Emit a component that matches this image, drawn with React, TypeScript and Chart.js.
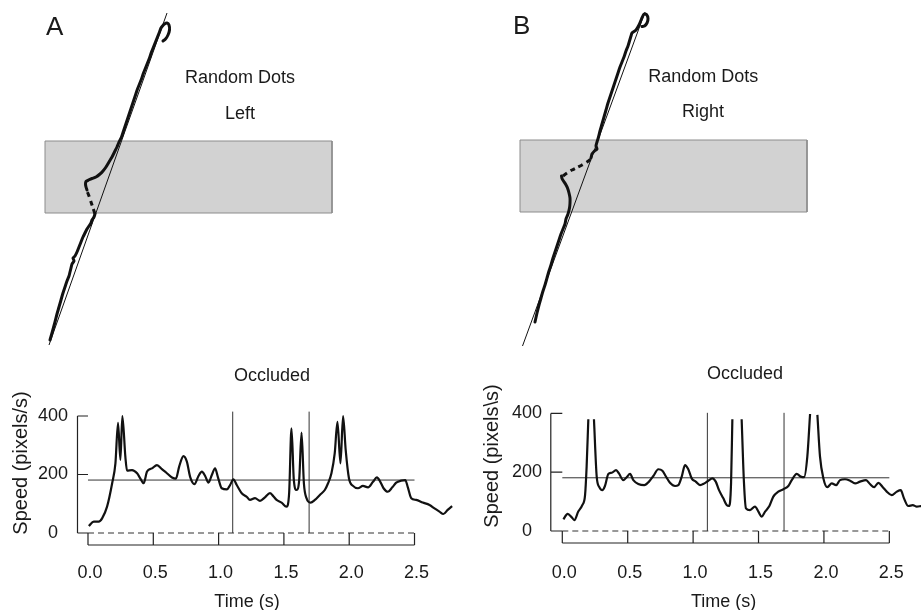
import { useEffect, useRef } from "react";
import { Chart, registerables } from "chart.js";

Chart.register(...registerables);

const FONT = "'Liberation Sans', Arial, Helvetica, sans-serif";

// ---------- Speed traces (time in s, speed in pixels/s) ----------
const timeA = [0.006, 0.044, 0.082, 0.108, 0.146, 0.185, 0.21, 0.23, 0.248, 0.263, 0.286, 0.299, 0.337, 0.376, 0.4, 0.426, 0.452, 0.49, 0.528, 0.566, 0.6, 0.643, 0.673, 0.698, 0.731, 0.757, 0.782, 0.815, 0.846, 0.872, 0.897, 0.922, 0.948, 0.973, 0.994, 1.024, 1.063, 1.088, 1.113, 1.139, 1.177, 1.215, 1.24, 1.279, 1.317, 1.355, 1.393, 1.418, 1.444, 1.482, 1.52, 1.54, 1.558, 1.576, 1.597, 1.617, 1.635, 1.653, 1.673, 1.704, 1.737, 1.775, 1.813, 1.838, 1.864, 1.889, 1.91, 1.933, 1.953, 1.973, 1.998, 2.029, 2.067, 2.105, 2.144, 2.182, 2.212, 2.238, 2.263, 2.296, 2.33, 2.36, 2.398, 2.429, 2.449, 2.475, 2.513, 2.563, 2.615, 2.653, 2.691, 2.721, 2.754, 2.788];
const speedA = [24, 39, 39, 50, 90, 170, 238, 377, 250, 400, 261, 213, 215, 204, 187, 170, 210, 221, 232, 218, 206, 190, 186, 227, 263, 244, 192, 167, 195, 210, 195, 172, 198, 221, 192, 153, 149, 164, 183, 164, 136, 124, 113, 119, 110, 122, 136, 126, 113, 104, 90, 136, 358, 181, 147, 181, 343, 170, 119, 104, 113, 130, 147, 170, 204, 272, 380, 238, 400, 284, 187, 161, 153, 161, 156, 175, 190, 175, 153, 141, 156, 172, 179, 181, 156, 119, 113, 104, 96, 84, 73, 65, 79, 92];

const timeB = [0.008, 0.041, 0.072, 0.092, 0.122, 0.153, 0.174, 0.186, 0.199, 0.22, 0.242, 0.263, 0.283, 0.306, 0.326, 0.352, 0.378, 0.411, 0.433, 0.466, 0.492, 0.518, 0.543, 0.581, 0.627, 0.663, 0.696, 0.734, 0.765, 0.79, 0.823, 0.862, 0.887, 0.913, 0.938, 0.963, 0.989, 1.02, 1.053, 1.086, 1.116, 1.147, 1.173, 1.198, 1.231, 1.257, 1.274, 1.29, 1.3, 1.335, 1.371, 1.389, 1.404, 1.435, 1.473, 1.499, 1.524, 1.55, 1.583, 1.613, 1.651, 1.69, 1.728, 1.754, 1.792, 1.823, 1.848, 1.873, 1.894, 1.92, 1.95, 1.97, 1.996, 2.026, 2.06, 2.093, 2.123, 2.161, 2.2, 2.238, 2.276, 2.322, 2.352, 2.383, 2.416, 2.45, 2.48, 2.518, 2.557, 2.587, 2.612, 2.645, 2.679, 2.71, 2.743];
const speedB: (number | null)[] = [40, 58, 47, 37, 66, 88, 122, 219, 380, null, 380, 185, 149, 139, 153, 194, 198, 207, 196, 173, 183, 194, 173, 160, 156, 168, 187, 210, 205, 187, 164, 153, 156, 185, 224, 210, 179, 168, 156, 162, 171, 179, 168, 139, 111, 88, 85, 162, 380, null, 380, 162, 77, 71, 83, 66, 49, 66, 85, 117, 134, 142, 153, 173, 194, 185, 183, 253, 398, null, 395, 253, 179, 149, 162, 156, 173, 176, 171, 162, 168, 173, 160, 149, 164, 149, 134, 122, 134, 139, 111, 85, 88, 83, 85];

const meanSpeedA = 181;
const meanSpeedB = 181;
const occlusionTimesA = [1.108, 1.693];
const occlusionTimesB = [1.109, 1.695];
const occlusionMarkerTopA = 415;
const occlusionMarkerTopB = 402;

const speedTicks = [0, 200, 400];
const timeTicks = [0, 0.5, 1.0, 1.5, 2.0, 2.5];

// ---------- Trajectories (screen coordinates, y downward) ----------
const targetLineA: [number, number][] = [[49, 345], [167, 13]];
const occluderAX = [45, 332];
const occluderAY = [141, 213];
const trajA_before: [number, number][] = [[50, 340], [52, 333], [55, 322], [57, 314], [59, 307], [61, 300], [63, 293], [65, 287], [67, 281], [69, 276], [70, 272], [71, 268], [72, 264], [74, 261], [73, 258], [75, 256], [77, 252], [79, 247], [81, 242], [83, 237], [85, 233], [87, 229], [89, 226], [91, 223], [92, 220], [94, 217], [95, 214]];
const trajA_hidden: [number, number][] = [[95, 214], [93, 208], [91, 202], [89, 196], [87, 191]];
const trajA_after: [number, number][] = [[87, 190], [86, 187], [85.5, 184], [86, 181.5], [88.5, 180], [92, 178.5], [96, 177], [100, 174], [103, 171], [106, 167], [109, 162], [112, 157], [114.5, 152], [117, 147], [119, 142], [121.5, 137], [123.5, 131], [125.5, 125], [127.5, 119], [129.5, 113], [131.5, 107], [133.5, 101], [135.5, 95], [137.5, 89], [139.5, 84], [141.5, 79], [143.5, 73], [145.5, 68], [147.5, 63], [149.5, 58], [151.5, 52], [153.5, 47], [155.5, 42], [157.5, 37], [159.5, 32], [161, 28], [162.5, 26], [164.5, 24], [167, 23], [169, 25], [169.5, 30], [168, 35], [165.5, 39], [163, 41]];

const targetLineB: [number, number][] = [[522.5, 346], [645, 12]];
const occluderBX = [520, 807];
const occluderBY = [140, 212];
const trajB_before: [number, number][] = [[535, 322], [537, 313], [539, 305], [541, 298], [543, 291], [545, 285], [547, 278], [549, 271], [551, 265], [553, 258], [555, 252], [557, 246], [559, 240], [561, 234], [563, 229], [565, 224], [566, 219], [568, 214], [569.5, 208], [570, 203], [570, 198], [569, 193], [567.5, 188], [565.5, 184], [563.5, 181], [562, 178.5], [561.5, 176]];
const trajB_hidden: [number, number][] = [[563, 176], [567, 173], [572, 170], [577, 167.5], [582, 165], [587, 162], [591, 159]];
const trajB_after: [number, number][] = [[591, 158], [592, 154], [594.5, 151], [597, 149], [596, 146], [597, 142], [598.5, 137], [600, 131], [602, 124], [604, 117], [606, 110], [608, 103], [610, 97], [612, 91], [614, 85], [616, 79], [618, 73], [620, 67], [622, 62], [624, 57], [626, 51], [628, 46], [629.5, 41], [631, 36], [632, 33], [636, 30], [639, 25], [641.5, 19], [644, 14], [646.5, 14.5], [648, 18.5], [647, 23], [644.5, 26], [642, 26.5]];

// ---------- plugin: bracket axes + free text ----------
type TextItem = { text: string; x: number; y: number; size: number; align?: CanvasTextAlign; rotate?: boolean };

const decorPlugin = {
  id: "decor",
  afterDatasetsDraw(chart: any, _args: any, opts: any) {
    const ctx: CanvasRenderingContext2D = chart.ctx;
    const br = opts.bracket;
    if (br) {
      const xs = chart.scales.x;
      const ys = chart.scales.y;
      const xT: number[] = br.xTicks;
      const yT: number[] = br.yTicks;
      const x0 = xs.getPixelForValue(xT[0]);
      const x1 = xs.getPixelForValue(xT[xT.length - 1]);
      const yZero = ys.getPixelForValue(0);
      const yTop = ys.getPixelForValue(Math.max(...yT));
      const axisX = x0 - br.gap;
      ctx.save();
      ctx.strokeStyle = "#222";
      ctx.lineWidth = 1.2;
      ctx.beginPath();
      ctx.moveTo(axisX, yTop);
      ctx.lineTo(axisX, yZero);
      yT.forEach((v) => {
        const y = ys.getPixelForValue(v);
        ctx.moveTo(axisX, y);
        ctx.lineTo(x0, y);
      });
      ctx.moveTo(x0, yZero + br.drop);
      ctx.lineTo(x1, yZero + br.drop);
      xT.forEach((v) => {
        const x = xs.getPixelForValue(v);
        ctx.moveTo(x, yZero);
        ctx.lineTo(x, yZero + br.drop);
      });
      ctx.stroke();
      ctx.restore();
    }
    const texts: TextItem[] = opts.texts || [];
    texts.forEach((t) => {
      ctx.save();
      ctx.fillStyle = "#1a1a1a";
      ctx.font = `${t.size}px ${FONT}`;
      ctx.textAlign = t.align || "center";
      ctx.textBaseline = "alphabetic";
      if (t.rotate) {
        ctx.translate(t.x, t.y);
        ctx.rotate(-Math.PI / 2);
        ctx.fillText(t.text, 0, 0);
      } else {
        ctx.fillText(t.text, t.x, t.y);
      }
      ctx.restore();
    });
  },
};

function pathConfig(p: {
  target: [number, number][];
  boxX: number[];
  boxY: number[];
  before: [number, number][];
  hidden: [number, number][];
  after: [number, number][];
  xMin: number;
  xMax: number;
  texts: TextItem[];
}): any {
  const box = [
    [p.boxX[0], p.boxY[0]],
    [p.boxX[1], p.boxY[0]],
    [p.boxX[1], p.boxY[1]],
    [p.boxX[0], p.boxY[1]],
    [p.boxX[0], p.boxY[0]],
  ];
  const thick = { borderColor: "#111", borderWidth: 3, pointRadius: 0, tension: 0.2, borderCapStyle: "round", borderJoinStyle: "round", fill: false };
  return {
    type: "line",
    data: {
      datasets: [
        { data: p.target, borderColor: "#111", borderWidth: 1, pointRadius: 0, fill: false },
        { ...thick, data: p.before },
        { ...thick, data: p.hidden, borderDash: [5, 4], borderCapStyle: "butt", tension: 0.2 },
        { ...thick, data: p.after },
        { data: box, fill: "shape", backgroundColor: "#d2d2d2", borderColor: "#8c8c8c", borderWidth: 1, pointRadius: 0, tension: 0, order: 10 },
      ],
    },
    options: {
      responsive: false,
      animation: false,
      devicePixelRatio: 1,
      layout: { padding: 0 },
      scales: {
        x: { type: "linear", min: p.xMin, max: p.xMax, display: false },
        y: { type: "linear", min: 0, max: 360, reverse: true, display: false },
      },
      plugins: { legend: { display: false }, tooltip: { enabled: false }, decor: { texts: p.texts } },
    },
    plugins: [decorPlugin],
  };
}

function speedConfig(p: {
  times: number[];
  speeds: (number | null)[];
  mean: number;
  occl: number[];
  occlTop: number;
  xMin: number;
  xMax: number;
  yMin: number;
  yMax: number;
  padTop: number;
  padRight: number;
  yAxisWidth: number;
  xAxisHeight: number;
  yTickPad: number;
  xTickPad: number;
  gap: number;
  drop: number;
  texts: TextItem[];
}): any {
  const t0 = timeTicks[0];
  const t1 = timeTicks[timeTicks.length - 1];
  const thin = { borderColor: "#333", borderWidth: 1, pointRadius: 0, fill: false };
  return {
    type: "line",
    data: {
      datasets: [
        {
          data: p.times.map((t, i) => ({ x: t, y: p.speeds[i] })),
          borderColor: "#111",
          borderWidth: 2.2,
          pointRadius: 0,
          cubicInterpolationMode: "monotone",
          spanGaps: false,
          fill: false,
          borderJoinStyle: "round",
        },
        { ...thin, data: [{ x: t0, y: p.mean }, { x: t1, y: p.mean }] },
        ...p.occl.map((t) => ({ ...thin, data: [{ x: t, y: 0 }, { x: t, y: p.occlTop }] })),
        { ...thin, borderWidth: 1.2, borderDash: [6, 4], data: [{ x: t0, y: 0 }, { x: t1, y: 0 }] },
      ],
    },
    options: {
      responsive: false,
      animation: false,
      devicePixelRatio: 1,
      layout: { padding: { top: p.padTop, right: p.padRight, left: 0, bottom: 0 } },
      scales: {
        x: {
          type: "linear",
          min: p.xMin,
          max: p.xMax,
          afterBuildTicks: (s: any) => {
            s.ticks = timeTicks.map((v) => ({ value: v }));
          },
          afterFit: (s: any) => {
            s.height = p.xAxisHeight;
          },
          ticks: {
            callback: (v: any) => Number(v).toFixed(1),
            font: { size: 18, family: FONT },
            color: "#1a1a1a",
            padding: p.xTickPad,
            maxRotation: 0,
            autoSkip: false,
            labelOffset: 2,
          },
          grid: { display: false, drawTicks: false },
          border: { display: false },
        },
        y: {
          type: "linear",
          min: p.yMin,
          max: p.yMax,
          afterBuildTicks: (s: any) => {
            s.ticks = speedTicks.map((v) => ({ value: v }));
          },
          afterFit: (s: any) => {
            s.width = p.yAxisWidth;
          },
          ticks: {
            font: { size: 18, family: FONT },
            color: "#1a1a1a",
            padding: p.yTickPad,
            crossAlign: "center",
            autoSkip: false,
          },
          grid: { display: false, drawTicks: false },
          border: { display: false },
        },
      },
      plugins: {
        legend: { display: false },
        tooltip: { enabled: false },
        decor: { bracket: { xTicks: timeTicks, yTicks: speedTicks, gap: p.gap, drop: p.drop }, texts: p.texts },
      },
    },
    plugins: [decorPlugin],
  };
}

function ChartCanvas(props: { make: () => any; left: number; top: number; width: number; height: number }) {
  const ref = useRef<HTMLCanvasElement>(null);
  useEffect(() => {
    if (!ref.current) return;
    const chart = new Chart(ref.current, props.make());
    return () => chart.destroy();
  }, []);
  return (
    <canvas
      ref={ref}
      width={props.width}
      height={props.height}
      style={{ position: "absolute", left: props.left, top: props.top, width: props.width, height: props.height }}
    />
  );
}

export default function App() {
  return (
    <div style={{ position: "absolute", left: 0, top: 0, width: 921, height: 610, background: "#fff", overflow: "hidden" }}>
      <ChartCanvas
        left={0}
        top={0}
        width={460}
        height={360}
        make={() =>
          pathConfig({
            target: targetLineA,
            boxX: occluderAX,
            boxY: occluderAY,
            before: trajA_before,
            hidden: trajA_hidden,
            after: trajA_after,
            xMin: 0,
            xMax: 460,
            texts: [
              { text: "A", x: 46, y: 35, size: 26, align: "left" },
              { text: "Random Dots", x: 240, y: 83, size: 18 },
              { text: "Left", x: 240, y: 118.5, size: 18 },
            ],
          })
        }
      />
      <ChartCanvas
        left={460}
        top={0}
        width={461}
        height={360}
        make={() =>
          pathConfig({
            target: targetLineB,
            boxX: occluderBX,
            boxY: occluderBY,
            before: trajB_before,
            hidden: trajB_hidden,
            after: trajB_after,
            xMin: 460,
            xMax: 921,
            texts: [
              { text: "B", x: 53, y: 33.5, size: 26, align: "left" },
              { text: "Random Dots", x: 243.3, y: 81.7, size: 18 },
              { text: "Right", x: 243, y: 116.5, size: 18 },
            ],
          })
        }
      />
      <ChartCanvas
        left={0}
        top={360}
        width={460}
        height={250}
        make={() =>
          speedConfig({
            times: timeA,
            speeds: speedA,
            mean: meanSpeedA,
            occl: occlusionTimesA,
            occlTop: occlusionMarkerTopA,
            xMin: -0.0842,
            xMax: 2.81,
            yMin: -47.9,
            yMax: 454.7,
            padTop: 40,
            padRight: 5,
            yAxisWidth: 77,
            xAxisHeight: 63,
            yTickPad: 9,
            xTickPad: 15,
            gap: 10.5,
            drop: 12,
            texts: [
              { text: "Occluded", x: 272, y: 20.5, size: 18 },
              { text: "Time (s)", x: 247, y: 247, size: 18 },
              { text: "Speed (pixels/s)", x: 27, y: 103, size: 20, rotate: true },
            ],
          })
        }
      />
      <ChartCanvas
        left={460}
        top={360}
        width={461}
        height={250}
        make={() =>
          speedConfig({
            times: timeB,
            speeds: speedB,
            mean: meanSpeedB,
            occl: occlusionTimesB,
            occlTop: occlusionMarkerTopB,
            xMin: -0.094,
            xMax: 2.742,
            yMin: -47.6,
            yMax: 445.6,
            padTop: 40,
            padRight: 0,
            yAxisWidth: 90,
            xAxisHeight: 65,
            yTickPad: 8,
            xTickPad: 17.5,
            gap: 11.5,
            drop: 12,
            texts: [
              { text: "Occluded", x: 285, y: 18.5, size: 18 },
              { text: "Time (s)", x: 263.7, y: 247, size: 18 },
              { text: "Speed (pixels\\s)", x: 38, y: 96, size: 20, rotate: true },
            ],
          })
        }
      />
    </div>
  );
}
